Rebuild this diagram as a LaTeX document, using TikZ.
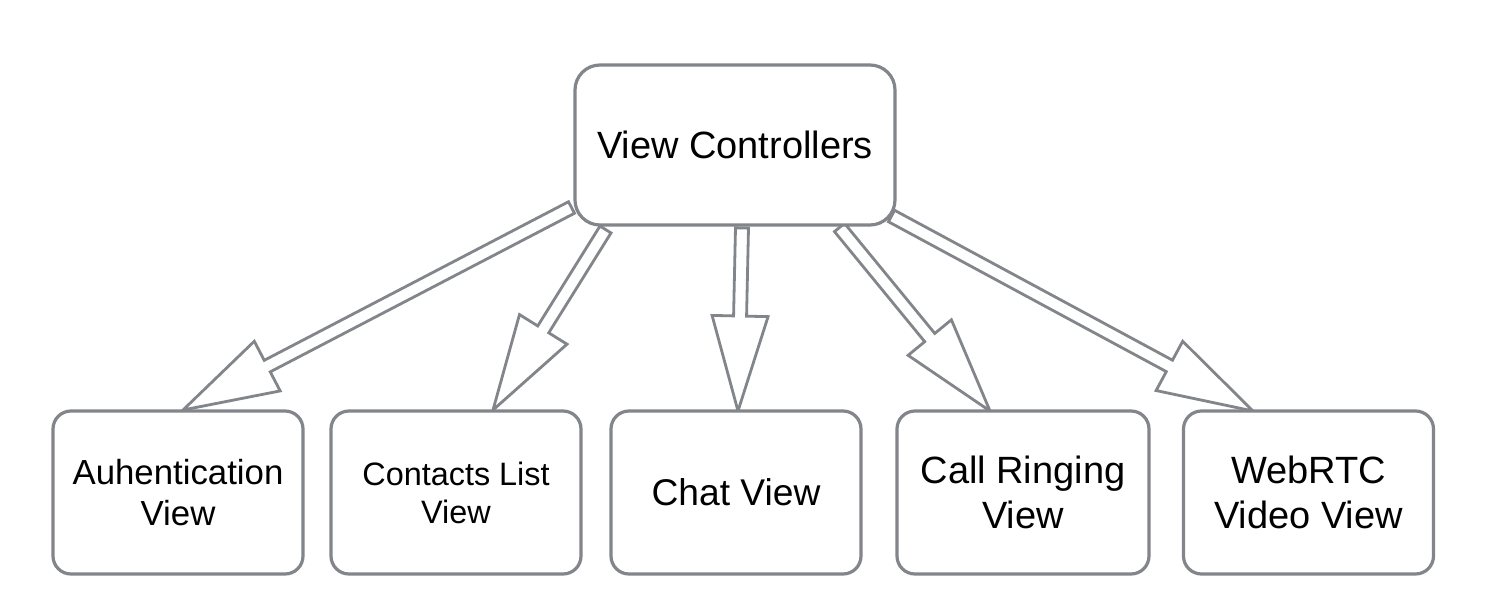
\documentclass[tikz,border=0pt]{standalone}
\usepackage{fontspec}
\setmainfont{Liberation Sans}
\usetikzlibrary{calc}
\definecolor{edge}{RGB}{130,133,138}
\tikzset{
  arrowline/.style={draw=edge, line width=1.4pt, fill=white, line join=miter},
  box/.style={draw=edge, line width=1.6pt, fill=white, rounded corners=9pt,
    minimum width=125pt, minimum height=81.5pt, align=center, inner sep=0pt, text=black},
}
\newcommand\hollowarrow[2]{%
  \path ($(#2)!47.5pt!(#1)$) coordinate (hb);
  \draw[arrowline] ($(#1)!3.25pt!90:(#2)$) -- ($(hb)!3.25pt!90:(#2)$) -- ($(hb)!14pt!90:(#2)$) -- (#2)
     -- ($(hb)!14pt!-90:(#2)$) -- ($(hb)!3.25pt!-90:(#2)$) -- ($(#1)!3.25pt!-90:(#2)$) -- cycle;}
\begin{document}
\begin{tikzpicture}[x=0.5pt,y=-0.5pt]
\fill[white] (0,0) rectangle (1496,616);
\useasboundingbox (0,0) rectangle (1496,616);
% arrow end points
\coordinate (s1) at (571.5,207.5);
\coordinate (s2) at (605.5,229.5);
\coordinate (s3) at (742,228);
\coordinate (s4) at (839.5,227.5);
\coordinate (s5) at (891.5,216);
\coordinate (t1) at (183,410);
\coordinate (t2) at (493,410);
\coordinate (t3) at (738,411);
\coordinate (t4) at (990,411);
\coordinate (t5) at (1253,411);
\hollowarrow{s1}{t1}
\hollowarrow{s2}{t2}
\hollowarrow{s3}{t3}
\hollowarrow{s4}{t4}
\hollowarrow{s5}{t5}
% boxes
\node[box, minimum width=160pt, minimum height=80pt, rounded corners=12.5pt,
  font={\fontsize{19pt}{22pt}\selectfont}] (vc) at (735,145) {View Controllers};
\node[box, font={\fontsize{17.4pt}{20.5pt}\selectfont}] (auth) at (178,492.5) {Auhentication\\View};
\node[box, font={\fontsize{16.2pt}{19pt}\selectfont}] (contacts) at (456,492.5) {Contacts List\\View};
\node[box, font={\fontsize{18.6pt}{22pt}\selectfont}] (chat) at (736,492.5) {Chat View};
\node[box, minimum width=126pt, font={\fontsize{19pt}{22.5pt}\selectfont}] (call) at (1023,492.5) {Call Ringing\\View};
\node[box, font={\fontsize{19pt}{22.5pt}\selectfont}] (webrtc) at (1308.5,492.5) {WebRTC\\Video View};
\end{tikzpicture}
\end{document}
